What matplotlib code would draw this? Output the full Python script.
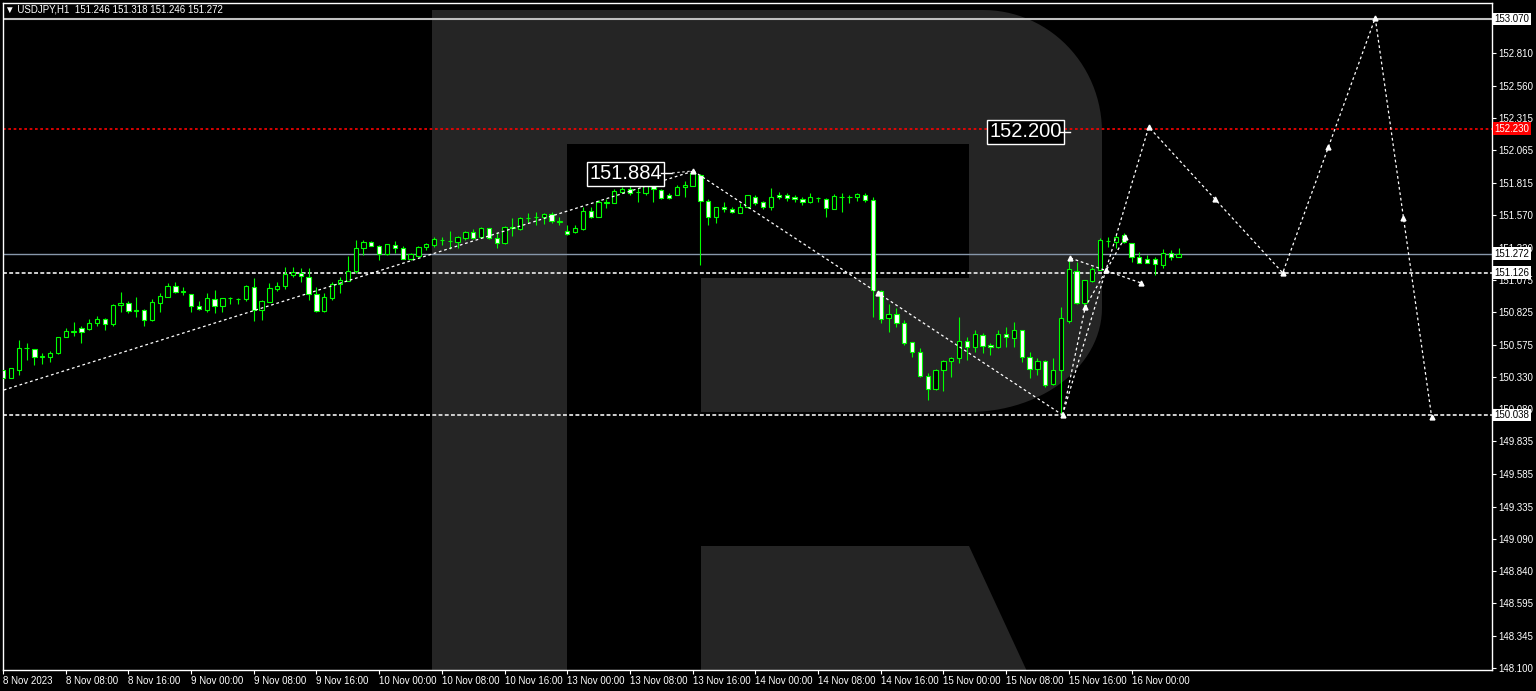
import matplotlib
matplotlib.use('Agg')
import matplotlib.pyplot as plt
import matplotlib.transforms as mtransforms
from matplotlib.patches import Polygon
import numpy as np

plt.rcParams['font.family'] = ['Liberation Sans', 'DejaVu Sans']

W, H = 1536, 691

# ---- USDJPY H1 bars, 8 Nov 2023 00:00 .. 16 Nov 2023 06:00 (weekend skipped) ----
opens = [150.382, 150.323, 150.382, 150.549, 150.543, 150.484, 150.484, 150.510, 150.633, 150.676,
         150.702, 150.694, 150.740, 150.775, 150.732, 150.878, 150.898, 150.837, 150.842, 150.765,
         150.898, 150.944, 151.026, 150.982, 150.962, 150.872, 150.842, 150.926, 150.872, 150.931,
         150.926, 150.924, 151.020, 150.842, 150.905, 151.003, 151.028, 151.110, 151.127, 151.097,
         150.964, 150.837, 150.936, 151.038, 151.066, 151.143, 151.314, 151.360, 151.332, 151.268,
         151.340, 151.314, 151.232, 151.258, 151.322, 151.340, 151.378, 151.370, 151.365, 151.396,
         151.437, 151.398, 151.467, 151.391, 151.352, 151.480, 151.462, 151.544, 151.552, 151.552,
         151.577, 151.518, 151.447, 151.441, 151.460, 151.602, 151.552, 151.664, 151.659, 151.748,
         151.766, 151.743, 151.735, 151.794, 151.761, 151.722, 151.722, 151.781, 151.794, 151.876,
         151.679, 151.556, 151.628, 151.613, 151.587, 151.628, 151.709, 151.671, 151.633, 151.722,
         151.722, 151.709, 151.692, 151.671, 151.697, 151.692, 151.615, 151.705, 151.705, 151.705,
         151.722, 151.684, 150.990, 150.778, 150.811, 150.745, 150.594, 150.523, 150.339, 150.234,
         150.382, 150.451, 150.472, 150.607, 150.561, 150.650, 150.574, 150.556, 150.658, 150.625,
         150.689, 150.484, 150.387, 150.451, 150.275, 150.382, 150.760, 151.143, 150.893, 151.066,
         151.148, 151.370, 151.365, 151.416, 151.352, 151.245, 151.230, 151.230, 151.186, 151.276,
         151.246]
highs = [150.390, 150.400, 150.612, 150.587, 150.543, 150.510, 150.528, 150.637, 150.702, 150.748,
         150.722, 150.770, 150.796, 150.780, 150.888, 150.982, 150.911, 150.944, 150.849, 150.926,
         150.970, 151.046, 151.054, 151.016, 150.962, 150.913, 150.974, 150.995, 150.936, 150.944,
         150.931, 151.033, 151.085, 150.918, 151.046, 151.054, 151.169, 151.173, 151.161, 151.161,
         151.016, 150.970, 151.059, 151.097, 151.255, 151.378, 151.378, 151.370, 151.340, 151.347,
         151.370, 151.332, 151.281, 151.332, 151.352, 151.403, 151.398, 151.449, 151.408, 151.449,
         151.460, 151.480, 151.472, 151.441, 151.485, 151.544, 151.552, 151.582, 151.595, 151.587,
         151.595, 151.552, 151.493, 151.493, 151.633, 151.633, 151.684, 151.689, 151.766, 151.786,
         151.799, 151.774, 151.842, 151.807, 151.766, 151.735, 151.799, 151.832, 151.914, 151.883,
         151.689, 151.633, 151.671, 151.633, 151.664, 151.722, 151.722, 151.679, 151.774, 151.748,
         151.735, 151.722, 151.709, 151.735, 151.709, 151.697, 151.728, 151.735, 151.722, 151.735,
         151.740, 151.709, 150.995, 150.888, 150.855, 150.765, 150.599, 150.549, 150.357, 150.387,
         150.459, 150.479, 150.786, 150.633, 150.689, 150.663, 150.587, 150.689, 150.714, 150.752,
         150.692, 150.523, 150.472, 150.459, 150.472, 150.867, 151.238, 151.212, 151.072, 151.171,
         151.391, 151.398, 151.416, 151.429, 151.352, 151.288, 151.263, 151.245, 151.307, 151.301,
         151.318]
lows = [150.291, 150.320, 150.344, 150.459, 150.421, 150.426, 150.446, 150.502, 150.633, 150.643,
        150.591, 150.689, 150.719, 150.689, 150.719, 150.829, 150.816, 150.786, 150.719, 150.760,
        150.824, 150.944, 150.970, 150.957, 150.829, 150.842, 150.829, 150.816, 150.829, 150.888,
        150.888, 150.913, 150.760, 150.765, 150.905, 150.990, 151.000, 151.097, 151.059, 150.918,
        150.829, 150.829, 150.918, 150.970, 151.066, 151.123, 151.263, 151.332, 151.225, 151.263,
        151.276, 151.232, 151.225, 151.250, 151.301, 151.322, 151.340, 151.307, 151.314, 151.378,
        151.383, 151.391, 151.383, 151.314, 151.347, 151.408, 151.454, 151.506, 151.493, 151.498,
        151.506, 151.493, 151.416, 151.434, 151.454, 151.544, 151.552, 151.620, 151.659, 151.735,
        151.722, 151.666, 151.722, 151.671, 151.692, 151.692, 151.722, 151.709, 151.794, 151.186,
        151.493, 151.506, 151.595, 151.582, 151.582, 151.620, 151.646, 151.613, 151.607, 151.689,
        151.679, 151.671, 151.646, 151.664, 151.671, 151.556, 151.615, 151.595, 151.659, 151.679,
        151.671, 150.790, 150.740, 150.676, 150.714, 150.574, 150.484, 150.331, 150.153, 150.230,
        150.224, 150.326, 150.434, 150.459, 150.523, 150.510, 150.497, 150.548, 150.561, 150.561,
        150.446, 150.319, 150.344, 150.254, 150.268, 150.038, 150.740, 150.888, 150.855, 151.060,
        151.145, 151.326, 151.314, 151.352, 151.212, 151.199, 151.199, 151.110, 151.161, 151.225,
        151.246]
closes = [150.321, 150.395, 150.549, 150.551, 150.479, 150.486, 150.515, 150.633, 150.681, 150.680,
          150.676, 150.745, 150.770, 150.735, 150.880, 150.898, 150.834, 150.839, 150.765, 150.905,
          150.949, 151.026, 150.982, 150.984, 150.875, 150.847, 150.931, 150.872, 150.931, 150.933,
          150.928, 151.028, 150.842, 150.911, 151.008, 151.028, 151.115, 151.135, 151.104, 150.962,
          150.837, 150.939, 151.041, 151.072, 151.143, 151.314, 151.360, 151.334, 151.268, 151.345,
          151.314, 151.232, 151.268, 151.322, 151.347, 151.385, 151.380, 151.372, 151.398, 151.441,
          151.396, 151.472, 151.391, 151.352, 151.480, 151.467, 151.544, 151.546, 151.554, 151.577,
          151.523, 151.520, 151.421, 151.467, 151.602, 151.552, 151.666, 151.666, 151.753, 151.768,
          151.735, 151.745, 151.807, 151.766, 151.697, 151.697, 151.781, 151.799, 151.888, 151.679,
          151.556, 151.628, 151.613, 151.590, 151.633, 151.720, 151.664, 151.633, 151.709, 151.705,
          151.697, 151.689, 151.666, 151.705, 151.699, 151.620, 151.717, 151.707, 151.707, 151.730,
          151.684, 150.995, 150.773, 150.811, 150.745, 150.587, 150.523, 150.336, 150.234, 150.382,
          150.451, 150.472, 150.607, 150.561, 150.658, 150.569, 150.556, 150.658, 150.633, 150.689,
          150.479, 150.387, 150.451, 150.268, 150.382, 150.778, 151.153, 150.893, 151.072, 151.153,
          151.378, 151.372, 151.403, 151.360, 151.245, 151.199, 151.199, 151.194, 151.276, 151.246,
          151.272]

# time axis labels (every 8 bars)
xtick_pos = list(range(0, 145, 8))
xtick_labels = ["8 Nov 2023", "8 Nov 08:00", "8 Nov 16:00", "9 Nov 00:00", "9 Nov 08:00",
                "9 Nov 16:00", "10 Nov 00:00", "10 Nov 08:00", "10 Nov 16:00", "13 Nov 00:00",
                "13 Nov 08:00", "13 Nov 16:00", "14 Nov 00:00", "14 Nov 08:00", "14 Nov 16:00",
                "15 Nov 00:00", "15 Nov 08:00", "15 Nov 16:00", "16 Nov 00:00"]

# price scale
ytick_vals = [152.810, 152.560, 152.315, 152.065, 151.815, 151.570, 151.320, 151.075, 150.825,
              150.575, 150.330, 150.080, 149.835, 149.585, 149.335, 149.090, 148.840, 148.595,
              148.345, 148.100]

# horizontal levels
level_top = 153.070
level_target = 152.230
level_bid = 151.272
level_mid = 151.126
level_low = 150.038

# forecast wave paths (bar index, price)
path_rise = [(0.1, 150.229), (88.1, 151.906)]
path_fall = [(88.1, 151.906), (135.2, 150.038)]
path_main = [(135.2, 150.038), (146.2, 152.243), (163.3, 151.126), (175.1, 153.078), (182.3, 150.023)]
path_sub1 = [(135.2, 150.038), (138.1, 150.865), (143.2, 151.401)]
path_sub2 = [(136.2, 151.240), (145.2, 151.049)]
marker_pts = [(88.1, 151.906), (111.6, 150.972), (135.2, 150.038), (136.2, 151.240),
              (138.1, 150.865), (140.7, 151.148), (143.2, 151.401), (145.2, 151.049),
              (146.2, 152.243), (154.7, 151.692), (163.3, 151.126), (169.1, 152.090),
              (175.1, 153.078), (178.7, 151.546), (182.3, 150.023)]

GREEN = '#00ff00'

fig = plt.figure(figsize=(W / 100, H / 100), dpi=100, facecolor='black')
ax = fig.add_axes([3 / W, (H - 670) / H, 1489 / W, 667 / H], facecolor='black')
ax.set_xlim(0, 190)
ax.set_ylim(148.0853, 153.1925)

# --- watermark logo (pixel coordinates of the figure, y from top) ---
px = mtransforms.Affine2D().scale(1 / W, -1 / H).translate(0, 1) + fig.transFigure
logo_col = '#252525'

def arc(cx, cy, rx, ry, a0, a1, n=30):
    t = np.radians(np.linspace(a0, a1, n))
    return list(zip(cx + rx * np.cos(t), cy - ry * np.sin(t)))

outer = [(432, 10), (983, 10)] + arc(983, 132, 119, 122, 90, 0) + \
        arc(969, 308, 133, 104, 0, -90) + [(432, 412)]
ax.add_patch(Polygon(outer, closed=True, fc=logo_col, ec='none', transform=px, zorder=0))
ax.add_patch(Polygon([(432, 400), (567, 400), (567, 680), (432, 680)], closed=True,
                     fc=logo_col, ec='none', transform=px, zorder=0))
hole = [(567, 144), (969, 144), (969, 278), (701, 278), (701, 413), (567, 413)]
ax.add_patch(Polygon(hole, closed=True, fc='black', ec='none', transform=px, zorder=0.1))
leg = [(701, 546), (969, 546), (1031, 680), (701, 680)]
ax.add_patch(Polygon(leg, closed=True, fc=logo_col, ec='none', transform=px, zorder=0))

# --- horizontal levels ---
ax.axhline(level_top, color='#c0c0c0', lw=1.5, zorder=1)
ax.axhline(level_target, color='#ff0000', lw=1.2, ls=(0, (1.6, 1.6)), zorder=1)
ax.axhline(level_bid, color='#8797aa', lw=1.0, zorder=1)
ax.axhline(level_mid, color='#cfcfcf', lw=1.4, ls=(0, (2, 1.2)), zorder=1)
ax.axhline(level_low, color='#cfcfcf', lw=1.4, ls=(0, (2, 1.2)), zorder=1)

# --- candles ---
x = np.arange(len(opens))
o = np.array(opens)
c = np.array(closes)
ax.vlines(x, lows, highs, color=GREEN, lw=0.8, zorder=2)
bull = c >= o
body = np.where(np.abs(c - o) < 0.001, 0.001, c - o)
ax.bar(x[bull], body[bull], bottom=o[bull], width=0.55, color='black',
       edgecolor=GREEN, linewidth=0.8, zorder=3)
ax.bar(x[~bull], body[~bull], bottom=o[~bull], width=0.55, color='white',
       edgecolor=GREEN, linewidth=0.8, zorder=3)

# --- forecast lines ---
for path in (path_rise, path_fall, path_main, path_sub1, path_sub2):
    px_, py_ = zip(*path)
    ax.plot(px_, py_, color='white', lw=0.9, ls=(0, (2.2, 2.2)), zorder=4)
mx, my = zip(*marker_pts)
ax.plot(mx, my, ls='none', marker='^', ms=3.5, color='white', zorder=5)

# --- text labels on the chart ---
box = dict(boxstyle='square,pad=0.12', fc='black', ec='white', lw=1)
ax.text(74.8, 151.884, '151.884', color='white', fontsize=14.5, ha='left', va='center',
        bbox=box, zorder=6)
ax.plot([83.9, 85.4], [151.891, 151.891], color='white', lw=1, zorder=6)
ax.plot([85.4, 88.0], [151.891, 151.906], color='#cccccc', lw=0.9, ls=(0, (2, 2)), zorder=6)
ax.text(125.9, 152.205, '152.200', color='white', fontsize=14.5, ha='left', va='center',
        bbox=box, zorder=6)
ax.plot([134.9, 136.2], [152.205, 152.205], color='white', lw=1, zorder=6)

# --- axes styling ---
for s in ax.spines.values():
    s.set_color('white')
    s.set_linewidth(1)
ax.yaxis.tick_right()
ax.set_yticks(ytick_vals)
ax.set_yticklabels([f'{v:.3f}' for v in ytick_vals])
ax.set_xticks(xtick_pos)
ax.set_xticklabels(xtick_labels)
ax.tick_params(axis='both', colors='white', labelsize=7, length=3, width=0.8)
ax.tick_params(axis='y', pad=1.5)
ax.tick_params(axis='x', pad=1.5)
for lbl in ax.get_xticklabels():
    lbl.set_ha('left')

# price labels on the right scale
ytr = mtransforms.blended_transform_factory(ax.transAxes, ax.transData)
for val, fc, tc in [(level_top, 'white', 'black'), (level_target, '#ff0000', 'white'),
                    (level_bid, 'white', 'black'), (level_mid, 'white', 'black'),
                    (level_low, 'white', 'black')]:
    ax.text(1.0015, val, f'{val:.3f}', transform=ytr, color=tc, fontsize=7, ha='left',
            va='center', clip_on=False, zorder=7,
            bbox=dict(boxstyle='square,pad=0.15', fc=fc, ec='none'))

fig.text(5 / W, 1 - 10 / H, '\u25bc USDJPY,H1  151.246 151.318 151.246 151.272',
         color='white', fontsize=7, ha='left', va='center')

fig.savefig('out.png', dpi=100, facecolor='black')
